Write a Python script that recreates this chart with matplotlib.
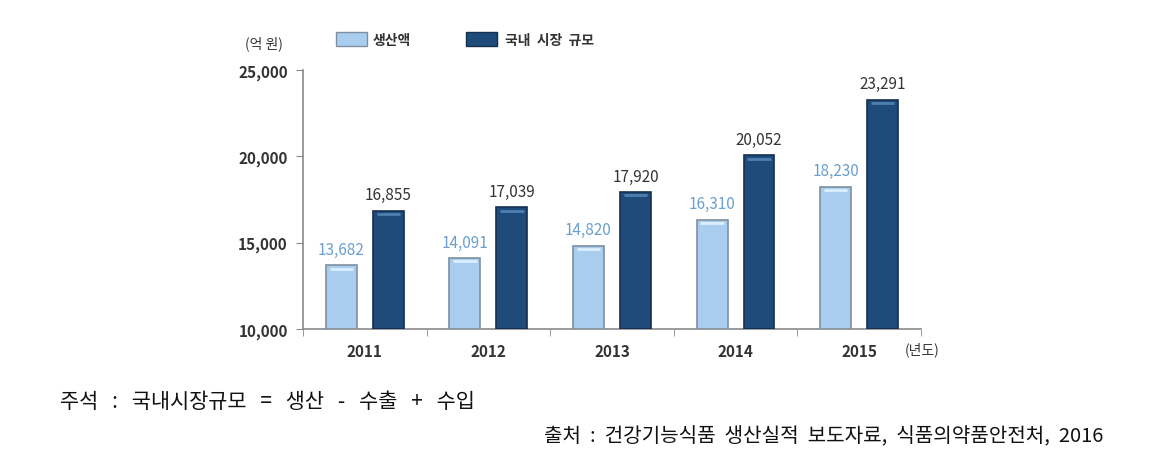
import numpy as np
import matplotlib
matplotlib.use("Agg")
import matplotlib.pyplot as plt
from matplotlib.patches import Rectangle

plt.rcParams['font.family'] = ['Noto Sans CJK KR', 'DejaVu Sans']

# data
years = ["2011", "2012", "2013", "2014", "2015"]
production = [13682, 14091, 14820, 16310, 18230]
market = [16855, 17039, 17920, 20052, 23291]
y_ticks = [10000, 15000, 20000, 25000]

light = "#a9cdee"
light_edge = "#7f8fa0"
dark = "#1f4b7a"
dark_edge = "#14304f"
axis_grey = "#8a8a8a"

fig = plt.figure(figsize=(11.64, 4.52), dpi=100)
ax = fig.add_axes([0.2603, 0.2699, 0.5309, 0.5730])

x = np.arange(len(years))
off = 0.19
w = 0.25
b1 = ax.bar(x - off, np.array(production) - 10000, w, bottom=10000,
            color=light, edgecolor=light_edge, linewidth=1.2, zorder=3)
b2 = ax.bar(x + off, np.array(market) - 10000, w, bottom=10000,
            color=dark, edgecolor=dark_edge, linewidth=1.2, zorder=3)

# highlight line near the top of each bar (bevel look)
for bars, hl in ((b1, "#dcefff"), (b2, "#4f7fae")):
    for r in bars:
        top = r.get_y() + r.get_height()
        ax.plot([r.get_x() + 0.03, r.get_x() + r.get_width() - 0.03],
                [top - 180, top - 180], color=hl, lw=2, zorder=4,
                solid_capstyle="butt")

for xi, v in zip(x, production):
    ax.text(xi - off, v + 450, f"{v:,}", ha="center", va="bottom",
            fontsize=11, color="#6b9fcf")
for xi, v in zip(x, market):
    ax.text(xi + off, v + 450, f"{v:,}", ha="center", va="bottom",
            fontsize=11, color="#333333")

ax.set_xlim(-0.5, len(years) - 0.5)
ax.set_ylim(10000, 25000)
ax.set_yticks(y_ticks)
ax.set_yticklabels([f"{t:,}" for t in y_ticks], fontsize=11,
                   fontweight="bold", color="#333333")
ax.set_xticks(x)
ax.set_xticklabels(years, fontsize=11, fontweight="bold", color="#333333")
ax.set_xticks(np.arange(len(years) + 1) - 0.5, minor=True)
ax.tick_params(axis="x", which="major", length=0, pad=10)
ax.tick_params(axis="x", which="minor", length=5, direction="out",
               color=axis_grey)
ax.tick_params(axis="y", length=5, direction="out", color=axis_grey, pad=6)

for s in ("top", "right"):
    ax.spines[s].set_visible(False)
for s in ("left", "bottom"):
    ax.spines[s].set_color(axis_grey)
    ax.spines[s].set_linewidth(1.2)

# unit labels
fig.text(245 / 1164, 1 - 44 / 452, "(억 원)", fontsize=10, color="#333333",
         va="center")
fig.text(905 / 1164, 1 - 350 / 452, "(년도)", fontsize=10, color="#333333",
         va="center")

# legend drawn at top
fig.patches.append(Rectangle((336 / 1164, 1 - 47 / 452), 31 / 1164, 14 / 452,
                             transform=fig.transFigure, facecolor=light,
                             edgecolor=light_edge, lw=1))
fig.text(373 / 1164, 1 - 41 / 452, "생산액", fontsize=10, color="#333333",
         va="center", fontweight="bold")
fig.patches.append(Rectangle((466 / 1164, 1 - 47 / 452), 31 / 1164, 14 / 452,
                             transform=fig.transFigure, facecolor=dark,
                             edgecolor=dark_edge, lw=1))
fig.text(505 / 1164, 1 - 41 / 452, "국내  시장  규모", fontsize=10,
         color="#333333", va="center", fontweight="bold")

# notes (wide spacing like the original)
fig.text(60 / 1164, 1 - 402 / 452,
         "주석   :   국내시장규모   =   생산   -   수출   +   수입",
         fontsize=15, color="#111111", va="center")
fig.text(1103 / 1164, 1 - 437 / 452,
         "출처  :  건강기능식품  생산실적  보도자료,  식품의약품안전처,  2016",
         fontsize=14.5, color="#111111", va="center", ha="right")

fig.savefig("out.png", dpi=100)
